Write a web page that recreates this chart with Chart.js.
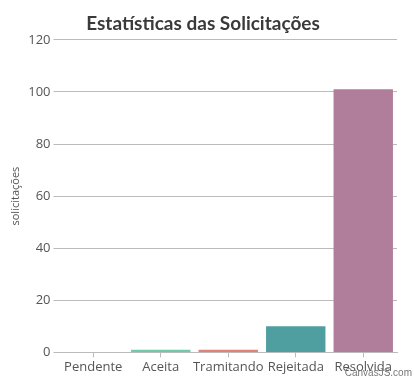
<!DOCTYPE html>
<html>
<head>
<meta charset="utf-8">
<script src="https://cdn.jsdelivr.net/npm/chart.js@4"></script>
<style>
html, body { margin: 0; padding: 0; background: #fff; }
#box { position: relative; width: 414px; height: 376px; }
#credito { position: absolute; right: 2px; bottom: -2px; font: 10px "Liberation Sans", sans-serif; color: #777; }
</style>
</head>
<body>
<div id="box">
<canvas id="grafico" width="414" height="376"></canvas>
<span id="credito">CanvasJS.com</span>
</div>
<script>
var categorias = ["Pendente", "Aceita", "Tramitando", "Rejeitada", "Resolvida"];
var quantidades = [0, 1, 1, 10, 101];
var cores = ["#4f81bc", "#6dcba8", "#e0817a", "#4f9fa1", "#b07e9a"];
var marcas_y = [0, 20, 40, 60, 80, 100, 120];

var contexto = document.getElementById('grafico').getContext('2d');

var grafico = new Chart(contexto, {
	type: 'bar',
	data: {
		labels: categorias,
		datasets: [{
			label: "solicitações",
			data: quantidades,
			backgroundColor: cores,
			barPercentage: 0.88,
			categoryPercentage: 1
		}]
	},
	options: {
		responsive: false,
		animation: false,
		layout: { padding: { left: 9, right: 17, top: 8, bottom: -1 } },
		plugins: {
			legend: { display: false },
			tooltip: { enabled: false },
			title: {
				display: true,
				text: "Estatísticas das Solicitações",
				color: "#3a3a3a",
				font: { family: "Lato", size: 19, weight: "bold" },
				padding: { top: 4, bottom: 5 }
			}
		},
		scales: {
			y: {
				min: 0,
				max: 120,
				afterBuildTicks: function (eixo) {
					eixo.ticks = marcas_y.map(function (v) { return { value: v }; });
				},
				title: {
					display: true,
					text: "solicitações",
					color: "#555",
					font: { family: "Open Sans", size: 11 },
					padding: { top: 0, bottom: 3 }
				},
				ticks: { color: "#555", font: { family: "Open Sans", size: 13 }, padding: 3 },
				grid: { color: "#bbbbbb", tickLength: 6, tickColor: "#bbbbbb" },
				border: { display: false }
			},
			x: {
				ticks: { color: "#555", font: { family: "Open Sans", size: 13 }, padding: 2, maxRotation: 0, autoSkip: false },
				grid: { drawOnChartArea: false, offset: false, tickLength: 5, color: "#bbbbbb" },
				border: { color: "#bbbbbb" }
			}
		}
	}
});
</script>
</body>
</html>
